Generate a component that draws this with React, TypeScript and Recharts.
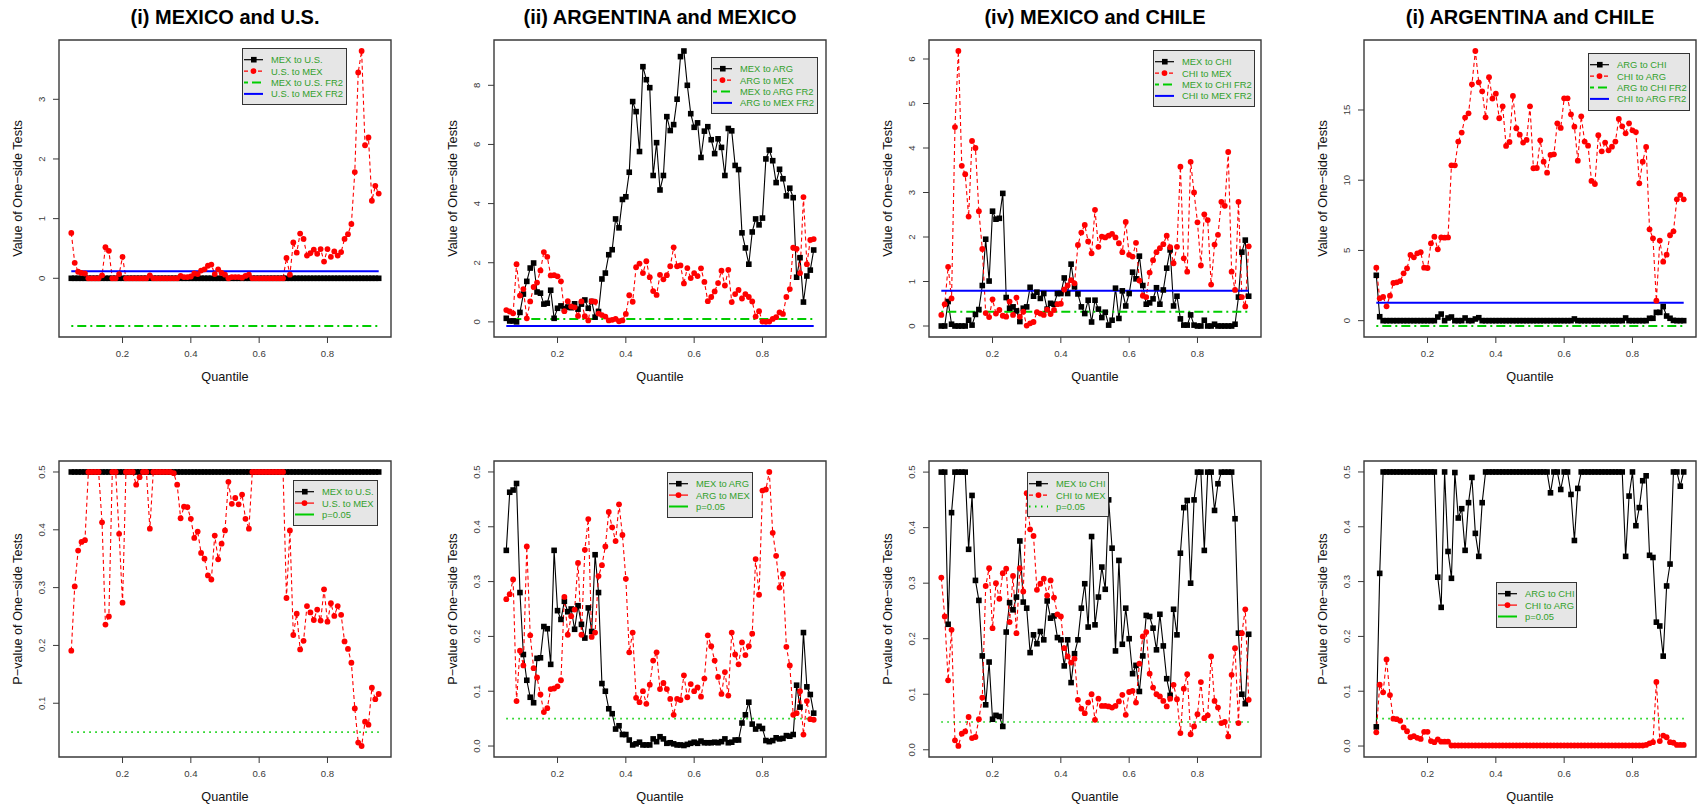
import React from "react";
import { LineChart, Line, XAxis, YAxis, ReferenceLine, ReferenceArea } from "recharts";

// quantile grid, 0.05 .. 0.95
const QUANTILES = [
  0.05, 0.06, 0.07, 0.08, 0.09, 0.1, 0.11, 0.12, 0.13, 0.14,
  0.15, 0.16, 0.17, 0.18, 0.19, 0.2, 0.21, 0.22, 0.23, 0.24,
  0.25, 0.26, 0.27, 0.28, 0.29, 0.3, 0.31, 0.32, 0.33, 0.34,
  0.35, 0.36, 0.37, 0.38, 0.39, 0.4, 0.41, 0.42, 0.43, 0.44,
  0.45, 0.46, 0.47, 0.48, 0.49, 0.5, 0.51, 0.52, 0.53, 0.54,
  0.55, 0.56, 0.57, 0.58, 0.59, 0.6, 0.61, 0.62, 0.63, 0.64,
  0.65, 0.66, 0.67, 0.68, 0.69, 0.7, 0.71, 0.72, 0.73, 0.74,
  0.75, 0.76, 0.77, 0.78, 0.79, 0.8, 0.81, 0.82, 0.83, 0.84,
  0.85, 0.86, 0.87, 0.88, 0.89, 0.9, 0.91, 0.92, 0.93, 0.94,
  0.95,
];

// ---- test values (top row) ----
const MEX_US_VAL = [
  0, 0, 0, 0, 0, 0, 0, 0, 0, 0,
  0, 0, 0, 0, 0, 0, 0, 0, 0, 0,
  0, 0, 0, 0, 0, 0, 0, 0, 0, 0,
  0, 0, 0, 0, 0, 0, 0, 0, 0, 0,
  0, 0, 0, 0, 0, 0, 0, 0, 0, 0,
  0, 0, 0, 0, 0, 0, 0, 0, 0, 0,
  0, 0, 0, 0, 0, 0, 0, 0, 0, 0,
  0, 0, 0, 0, 0, 0, 0, 0, 0, 0,
  0, 0, 0, 0, 0, 0, 0, 0, 0, 0,
  0,
];
const US_MEX_VAL = [
  0.76, 0.26, 0.11, 0.09, 0.08, 0, 0, 0, 0, 0.05,
  0.52, 0.46, 0, 0, 0.07, 0.36, 0, 0, 0, 0,
  0, 0, 0, 0.05, 0, 0, 0, 0, 0, 0,
  0, 0, 0.04, 0.02, 0.02, 0.03, 0.08, 0.07, 0.13, 0.15,
  0.21, 0.23, 0.07, 0.15, 0.09, 0.06, 0, 0.02, 0.02, 0.02,
  0.01, 0.04, 0.06, 0, 0, 0, 0, 0, 0, 0,
  0, 0, 0, 0.34, 0.06, 0.6, 0.43, 0.75, 0.66, 0.38,
  0.42, 0.48, 0.41, 0.49, 0.28, 0.49, 0.36, 0.45, 0.38, 0.44,
  0.66, 0.74, 0.91, 1.78, 3.45, 3.81, 2.23, 2.36, 1.3, 1.55,
  1.42,
];
const MEX_ARG_VAL = [
  0.12, 0.03, 0.03, 0, 0.32, 0.94, 1.37, 1.82, 1.99, 1.01,
  0.97, 0.6, 0.63, 1.07, 0.12, 0.46, 0.54, 0.45, 0.5, 0.48,
  0.61, 0.43, 0.6, 0.74, 0.46, 0.69, 0.16, 0.35, 1.45, 1.65,
  2.27, 2.44, 3.48, 3.18, 4.14, 4.23, 5.06, 7.45, 7.11, 5.76,
  8.63, 8.19, 7.92, 4.95, 6.06, 4.46, 4.95, 6.94, 6.47, 6.67,
  7.53, 8.97, 9.16, 8.0, 7.04, 6.58, 6.73, 5.56, 6.45, 6.6,
  6.16, 5.69, 6.19, 5.9, 4.95, 6.54, 6.46, 5.29, 5.15, 3.01,
  2.5, 1.95, 3.04, 3.48, 3.28, 3.51, 5.51, 5.81, 5.45, 4.71,
  5.16, 4.84, 4.26, 4.52, 4.2, 1.51, 2.17, 0.67, 1.55, 1.75,
  2.43,
];
const ARG_MEX_VAL = [
  0.4, 0.35, 0.29, 1.95, 0.89, 1.11, 0.12, 0.69, 1.18, 1.33,
  1.74, 2.36, 2.2, 1.57, 1.58, 1.54, 1.37, 0.36, 0.7, 0.52,
  0.49, 0.2, 0.69, 0.19, 0.05, 0.7, 0.68, 0.28, 0.23, 0.18,
  0.05, 0.07, 0.1, 0.02, 0.05, 0.27, 0.9, 0.68, 1.85, 1.97,
  1.65, 2.05, 1.51, 1.04, 0.91, 1.59, 1.44, 1.58, 1.88, 2.52,
  1.88, 1.91, 1.3, 1.82, 1.48, 1.65, 1.55, 1.81, 1.35, 0.7,
  0.84, 1.03, 1.31, 1.73, 1.23, 1.76, 0.67, 0.94, 1.08, 0.79,
  0.94, 0.84, 0.69, 0.18, 0.36, 0.01, 0, 0.01, 0.1, 0.16,
  0.32, 0.27, 0.84, 1.11, 2.51, 2.47, 1.65, 4.22, 1.95, 2.77,
  2.8,
];
const MEX_CHI_VAL = [
  0, 0, 0.55, 0.04, 0, 0, 0, 0, 0.13, 0.02,
  0.26, 0.37, 0.91, 1.95, 1.01, 2.58, 2.4, 2.42, 2.98, 0.64,
  0.4, 0.43, 0.34, 0.1, 0.4, 0.43, 0.87, 0.67, 0.76, 0.62,
  0.73, 0.38, 0.51, 0.49, 0.73, 0.73, 1.08, 0.73, 1.39, 0.88,
  0.72, 0.43, 0.28, 0.58, 0.09, 0.58, 0.38, 0.19, 0.31, 0.02,
  0.13, 0.85, 0.17, 0.79, 0.45, 0.73, 1.21, 1.06, 1.57, 0.91,
  0.49, 0.52, 0.61, 0.86, 0.49, 0.81, 1.3, 1.71, 0.45, 0.67,
  0.16, 0.02, 0.02, 0.25, 0.02, 0, 0, 0.13, 0, 0,
  0.04, 0, 0, 0, 0, 0, 0.04, 0.65, 1.66, 1.93,
  0.67,
];
const CHI_MEX_VAL = [
  0.25, 0.49, 1.33, 0.62, 4.47, 6.18, 3.6, 3.41, 2.46, 4.16,
  4.0, 2.58, 1.73, 0.29, 0.2, 0.6, 0.28, 0.36, 0.23, 0.21,
  0.55, 0.25, 0.64, 0.21, 0.32, 0.01, 0.06, 0.09, 0.31, 0.28,
  0.25, 0.37, 0.27, 0.36, 0.49, 0.5, 0.82, 0.91, 1.03, 0.96,
  1.82, 2.1, 2.27, 1.9, 1.63, 2.61, 1.78, 2.01, 1.99, 2.03,
  2.07, 1.99, 1.86, 1.66, 2.34, 1.6, 1.56, 1.87, 1.02, 0.68,
  0.65, 1.2, 1.48, 1.66, 1.75, 1.84, 2.03, 1.77, 1.41, 1.78,
  3.58, 1.52, 1.22, 3.69, 3.0, 2.33, 1.36, 2.51, 2.38, 0.93,
  1.83, 2.05, 2.79, 2.7, 3.91, 1.22, 0.81, 2.79, 0.65, 0.44,
  1.79,
];
const ARG_CHI_VAL = [
  3.23, 0.28, 0, 0, 0, 0, 0, 0, 0, 0,
  0, 0, 0, 0, 0, 0, 0, 0, 0.26, 0.47,
  0, 0.19, 0.26, 0, 0, 0, 0.19, 0, 0, 0.12,
  0.21, 0, 0, 0, 0, 0, 0, 0, 0, 0,
  0, 0, 0, 0, 0, 0, 0, 0, 0, 0,
  0, 0, 0, 0, 0, 0, 0, 0, 0.12, 0,
  0, 0, 0, 0, 0, 0, 0, 0, 0, 0,
  0, 0, 0, 0.19, 0, 0, 0, 0, 0, 0,
  0.17, 0.17, 0.59, 0.59, 1.0, 0.33, 0.17, 0.02, 0, 0,
  0,
];
const CHI_ARG_VAL = [
  3.77, 1.59, 1.69, 1.02, 1.78, 2.68, 2.73, 2.82, 3.37, 3.73,
  4.68, 4.51, 4.79, 4.87, 3.77, 3.75, 5.51, 5.98, 5.08, 5.93,
  5.91, 5.93, 11.06, 11.06, 12.75, 13.39, 14.46, 14.76, 16.83, 19.2,
  16.97, 16.33, 14.48, 17.33, 15.81, 16.16, 14.41, 15.26, 12.44, 12.72,
  16.0, 13.7, 13.24, 12.68, 12.87, 15.26, 10.85, 10.87, 12.84, 11.32,
  10.54, 11.8, 11.84, 14.05, 13.72, 15.83, 15.83, 14.69, 13.81, 11.39,
  14.55, 12.75, 12.46, 9.95, 9.73, 13.2, 12.06, 12.68, 12.13, 12.39,
  12.75, 14.36, 13.84, 13.34, 14.05, 13.55, 13.43, 9.78, 11.32, 12.37,
  6.5, 5.86, 1.42, 5.7, 4.2, 4.7, 6.08, 6.36, 8.64, 8.95,
  8.64,
];

// ---- p-values (bottom row) ----
const MEX_US_P = [
  0.5, 0.5, 0.5, 0.5, 0.5, 0.5, 0.5, 0.5, 0.5, 0.5,
  0.5, 0.5, 0.5, 0.5, 0.5, 0.5, 0.5, 0.5, 0.5, 0.5,
  0.5, 0.5, 0.5, 0.5, 0.5, 0.5, 0.5, 0.5, 0.5, 0.5,
  0.5, 0.5, 0.5, 0.5, 0.5, 0.5, 0.5, 0.5, 0.5, 0.5,
  0.5, 0.5, 0.5, 0.5, 0.5, 0.5, 0.5, 0.5, 0.5, 0.5,
  0.5, 0.5, 0.5, 0.5, 0.5, 0.5, 0.5, 0.5, 0.5, 0.5,
  0.5, 0.5, 0.5, 0.5, 0.5, 0.5, 0.5, 0.5, 0.5, 0.5,
  0.5, 0.5, 0.5, 0.5, 0.5, 0.5, 0.5, 0.5, 0.5, 0.5,
  0.5, 0.5, 0.5, 0.5, 0.5, 0.5, 0.5, 0.5, 0.5, 0.5,
  0.5,
];
const US_MEX_P = [
  0.191, 0.302, 0.364, 0.379, 0.382, 0.5, 0.5, 0.5, 0.5, 0.413,
  0.236, 0.25, 0.5, 0.5, 0.393, 0.274, 0.5, 0.5, 0.5, 0.478,
  0.491, 0.5, 0.5, 0.402, 0.5, 0.5, 0.5, 0.5, 0.5, 0.5,
  0.498, 0.478, 0.42, 0.44, 0.439, 0.419, 0.386, 0.397, 0.36, 0.35,
  0.321, 0.314, 0.39, 0.349, 0.376, 0.399, 0.483, 0.445, 0.455, 0.444,
  0.461, 0.419, 0.402, 0.5, 0.5, 0.5, 0.5, 0.5, 0.5, 0.5,
  0.5, 0.5, 0.5, 0.282, 0.399, 0.218, 0.255, 0.193, 0.208, 0.268,
  0.257, 0.244, 0.262, 0.243, 0.297, 0.241, 0.273, 0.251, 0.268, 0.253,
  0.207, 0.194, 0.17, 0.091, 0.032, 0.026, 0.068, 0.063, 0.127, 0.107,
  0.116,
];
const MEX_ARG_P = [
  0.357, 0.463, 0.467, 0.479, 0.28, 0.167, 0.12, 0.089, 0.079, 0.16,
  0.161, 0.218, 0.214, 0.149, 0.357, 0.247, 0.231, 0.264, 0.245, 0.25,
  0.213, 0.256, 0.222, 0.197, 0.252, 0.209, 0.349, 0.28, 0.114, 0.1,
  0.068, 0.059, 0.031, 0.037, 0.021, 0.021, 0.011, 0.002, 0.004, 0.007,
  0.002, 0.002, 0.002, 0.013, 0.008, 0.017, 0.013, 0.005, 0.006, 0.004,
  0.002, 0.002, 0.001, 0.003, 0.005, 0.007, 0.005, 0.009, 0.006, 0.006,
  0.006, 0.007, 0.006, 0.008, 0.013, 0.006, 0.007, 0.011, 0.011, 0.042,
  0.057, 0.08, 0.04, 0.031, 0.036, 0.032, 0.01, 0.008, 0.01, 0.015,
  0.013, 0.014, 0.019, 0.018, 0.021, 0.111, 0.071, 0.207, 0.108, 0.094,
  0.06,
];
const ARG_MEX_P = [
  0.268, 0.277, 0.304, 0.082, 0.174, 0.147, 0.364, 0.202, 0.142, 0.125,
  0.094, 0.062, 0.069, 0.104, 0.105, 0.109, 0.12, 0.272, 0.203, 0.237,
  0.249, 0.334, 0.203, 0.358, 0.414, 0.199, 0.207, 0.31, 0.33, 0.364,
  0.427, 0.399, 0.374, 0.441, 0.385, 0.305, 0.171, 0.207, 0.088, 0.08,
  0.1, 0.077, 0.112, 0.156, 0.171, 0.104, 0.115, 0.104, 0.086, 0.057,
  0.086, 0.084, 0.129, 0.089, 0.113, 0.1, 0.107, 0.09, 0.123, 0.202,
  0.182, 0.156, 0.126, 0.095, 0.135, 0.092, 0.207, 0.167, 0.149, 0.189,
  0.166, 0.182, 0.205, 0.341, 0.276, 0.466, 0.468, 0.5, 0.389, 0.347,
  0.289, 0.314, 0.181, 0.147, 0.057, 0.06, 0.1, 0.021, 0.082, 0.049,
  0.048,
];
const MEX_CHI_P = [
  0.5, 0.5, 0.226, 0.427, 0.5, 0.5, 0.5, 0.5, 0.361, 0.458,
  0.305, 0.269, 0.169, 0.081, 0.158, 0.055, 0.062, 0.06, 0.042, 0.212,
  0.265, 0.252, 0.275, 0.376, 0.266, 0.255, 0.175, 0.207, 0.191, 0.213,
  0.198, 0.268, 0.237, 0.241, 0.202, 0.198, 0.151, 0.198, 0.121, 0.173,
  0.198, 0.255, 0.299, 0.221, 0.384, 0.225, 0.275, 0.329, 0.289, 0.45,
  0.363, 0.178, 0.341, 0.19, 0.255, 0.2, 0.137, 0.152, 0.105, 0.169,
  0.242, 0.24, 0.219, 0.18, 0.244, 0.187, 0.128, 0.098, 0.253, 0.207,
  0.354, 0.436, 0.449, 0.3, 0.45, 0.5, 0.5, 0.359, 0.5, 0.5,
  0.431, 0.479, 0.5, 0.5, 0.5, 0.5, 0.416, 0.21, 0.1, 0.083,
  0.208,
];
const CHI_MEX_P = [
  0.31, 0.24, 0.125, 0.216, 0.017, 0.007, 0.029, 0.033, 0.059, 0.021,
  0.023, 0.055, 0.094, 0.295, 0.327, 0.219, 0.3, 0.272, 0.318, 0.326,
  0.23, 0.313, 0.21, 0.327, 0.285, 0.462, 0.397, 0.385, 0.288, 0.299,
  0.308, 0.278, 0.305, 0.274, 0.244, 0.24, 0.183, 0.168, 0.157, 0.164,
  0.09, 0.074, 0.066, 0.085, 0.1, 0.054, 0.092, 0.079, 0.079, 0.078,
  0.076, 0.079, 0.087, 0.099, 0.063, 0.104, 0.106, 0.085, 0.155, 0.204,
  0.212, 0.137, 0.112, 0.1, 0.096, 0.088, 0.078, 0.092, 0.117, 0.091,
  0.03, 0.11, 0.136, 0.028, 0.042, 0.064, 0.122, 0.057, 0.062, 0.168,
  0.088, 0.076, 0.048, 0.05, 0.024, 0.135, 0.183, 0.048, 0.21, 0.253,
  0.09,
];
const ARG_CHI_P = [
  0.035, 0.315, 0.5, 0.5, 0.5, 0.5, 0.5, 0.5, 0.5, 0.5,
  0.5, 0.5, 0.5, 0.5, 0.5, 0.5, 0.5, 0.5, 0.308, 0.253,
  0.5, 0.355, 0.306, 0.499, 0.416, 0.433, 0.357, 0.444, 0.49, 0.388,
  0.346, 0.444, 0.5, 0.5, 0.5, 0.5, 0.5, 0.5, 0.5, 0.5,
  0.5, 0.5, 0.5, 0.5, 0.5, 0.5, 0.5, 0.5, 0.5, 0.5,
  0.5, 0.462, 0.5, 0.5, 0.468, 0.5, 0.5, 0.459, 0.375, 0.47,
  0.5, 0.5, 0.5, 0.5, 0.5, 0.5, 0.5, 0.5, 0.5, 0.5,
  0.5, 0.5, 0.5, 0.346, 0.456, 0.5, 0.402, 0.435, 0.484, 0.493,
  0.348, 0.344, 0.226, 0.219, 0.164, 0.292, 0.332, 0.5, 0.5, 0.474,
  0.5,
];
const CHI_ARG_P = [
  0.025, 0.112, 0.098, 0.158, 0.093, 0.05, 0.049, 0.046, 0.034, 0.027,
  0.016, 0.018, 0.015, 0.013, 0.026, 0.026, 0.009, 0.007, 0.012, 0.008,
  0.008, 0.008, 0.001, 0.001, 0.001, 0.001, 0.001, 0.001, 0.001, 0.001,
  0.001, 0.001, 0.001, 0.001, 0.001, 0.001, 0.001, 0.001, 0.001, 0.001,
  0.001, 0.001, 0.001, 0.001, 0.001, 0.001, 0.001, 0.001, 0.001, 0.001,
  0.001, 0.001, 0.001, 0.001, 0.001, 0.001, 0.001, 0.001, 0.001, 0.001,
  0.001, 0.001, 0.001, 0.001, 0.001, 0.001, 0.001, 0.001, 0.001, 0.001,
  0.001, 0.001, 0.001, 0.001, 0.001, 0.001, 0.001, 0.001, 0.001, 0.002,
  0.005, 0.007, 0.117, 0.009, 0.019, 0.016, 0.007, 0.006, 0.002, 0.002,
  0.002,
];

// FR2 reference levels (green = first direction, blue = reverse)
const FR2_GREEN = [-0.8, 0.1, 0.32, -0.38];
const FR2_BLUE = [0.12, -0.14, 0.79, 1.28];
const P_CUTOFF = 0.05;

const TITLES = [
  "(i) MEXICO and U.S.",
  "(ii) ARGENTINA and MEXICO",
  "(iv) MEXICO and CHILE",
  "(i) ARGENTINA and CHILE",
];
const TOP_NAMES = [
  ["MEX to U.S.", "U.S. to MEX", "MEX to U.S. FR2", "U.S. to MEX FR2"],
  ["MEX to ARG", "ARG to MEX", "MEX to ARG FR2", "ARG to MEX FR2"],
  ["MEX to CHI", "CHI to MEX", "MEX to CHI FR2", "CHI to MEX FR2"],
  ["ARG to CHI", "CHI to ARG", "ARG to CHI FR2", "CHI to ARG FR2"],
];
const BOTTOM_NAMES = [
  ["MEX to U.S.", "U.S. to MEX", "p=0.05"],
  ["MEX to ARG", "ARG to MEX", "p=0.05"],
  ["MEX to CHI", "CHI to MEX", "p=0.05"],
  ["ARG to CHI", "CHI to ARG", "p=0.05"],
];
const TOP_TICKS = [[0, 1, 2, 3], [0, 2, 4, 6, 8], [0, 1, 2, 3, 4, 5, 6], [0, 5, 10, 15]];
const BOTTOM_TICKS = [
  [0.1, 0.2, 0.3, 0.4, 0.5],
  [0, 0.1, 0.2, 0.3, 0.4, 0.5],
  [0, 0.1, 0.2, 0.3, 0.4, 0.5],
  [0, 0.1, 0.2, 0.3, 0.4, 0.5],
];
const X_TICKS = [0.2, 0.4, 0.6, 0.8];

const TOP_A = [MEX_US_VAL, MEX_ARG_VAL, MEX_CHI_VAL, ARG_CHI_VAL];
const TOP_B = [US_MEX_VAL, ARG_MEX_VAL, CHI_MEX_VAL, CHI_ARG_VAL];
const BOT_A = [MEX_US_P, MEX_ARG_P, MEX_CHI_P, ARG_CHI_P];
const BOT_B = [US_MEX_P, ARG_MEX_P, CHI_MEX_P, CHI_ARG_P];

// layout
const PANEL_W = 435;
const BOX_L = 59;
const BOX_R = 391;
const X_DOMAIN: [number, number] = [0.014, 0.986];
const TOP_DOMAINS: [number, number][] = [[-0.984, 3.994], [-0.512, 9.532], [-0.247, 6.427], [-1.163, 19.983]];
const BOT_DOMAINS: [number, number][] = [[0.007, 0.519], [-0.02, 0.52], [-0.013, 0.52], [-0.02, 0.52]];
const TOP_LEGEND_BOX = [
  { left: 242, top: 48, w: 105, h: 57 },
  { left: 276, top: 57, w: 107, h: 57 },
  { left: 283, top: 50, w: 102, h: 57 },
  { left: 283, top: 53, w: 102, h: 58 },
];
const BOT_LEGEND_BOX = [
  { left: 293, top: 76, w: 85, h: 46 },
  { left: 232, top: 68, w: 86, h: 46 },
  { left: 157, top: 68, w: 82, h: 45 },
  { left: 191, top: 178, w: 81, h: 46 },
];

const FONT = '"Liberation Sans", Arial, Helvetica, sans-serif';
const AXIS_GREY = "#3a3a3a";
const GREEN = "#00cd00";
const LEGEND_TEXT = "#33a02c";
const DOTDASH = "2 4 9 4";

const renderSquare = (p: any) => {
  const { cx, cy, index } = p;
  if (cx == null || cy == null) return <g key={`s-${index}`} />;
  return <rect key={`s-${index}`} x={cx - 2.8} y={cy - 2.8} width={5.6} height={5.6} fill="#000" />;
};
const renderCircle = (p: any) => {
  const { cx, cy, index } = p;
  if (cx == null || cy == null) return <g key={`c-${index}`} />;
  return <circle key={`c-${index}`} cx={cx} cy={cy} r={2.9} fill="#ff0000" />;
};

function RotTick(props: any) {
  const { x, y, payload, pval } = props;
  const v = payload.value as number;
  const label = pval ? v.toFixed(1) : String(v);
  return (
    <g>
      <text x={x} y={y} transform={`rotate(-90 ${x} ${y})`} textAnchor="middle" fontSize={9.6} fill={AXIS_GREY}>
        {label}
      </text>
    </g>
  );
}

function YTitle({ text, boxTop, boxH }: { text: string; boxTop: number; boxH: number }) {
  const y = boxTop + boxH / 2;
  return (
    <text x={22} y={y} transform={`rotate(-90 22 ${y})`} textAnchor="middle" fontSize={12.7} fill="#111">
      {text}
    </text>
  );
}

function XTitle({ boxBottom }: { boxBottom: number }) {
  return (
    <text x={(BOX_L + BOX_R) / 2} y={boxBottom + 44} textAnchor="middle" fontSize={12.7} fill="#111">
      Quantile
    </text>
  );
}

type LegendItem = { label: string; color: string; width: number; dash?: string; marker?: "square" | "circle" };

function LegendBox({ box, items }: { box: { left: number; top: number; w: number; h: number }; items: LegendItem[] }) {
  return (
    <div
      style={{
        position: "absolute",
        left: box.left,
        top: box.top,
        width: box.w,
        height: box.h,
        background: "#e6e6e6",
        border: "1px solid #333",
        boxSizing: "border-box",
      }}
    >
      <svg width={box.w - 2} height={box.h - 2} style={{ display: "block" }}>
        {items.map((it, k) => {
          const cy = 10.7 + k * 11.4;
          return (
            <g key={k}>
              <line x1={1} x2={20} y1={cy} y2={cy} stroke={it.color} strokeWidth={it.width} strokeDasharray={it.dash} />
              {it.marker === "square" && <rect x={8} y={cy - 2.8} width={5.6} height={5.6} fill="#000" />}
              {it.marker === "circle" && <circle cx={10.5} cy={cy} r={2.9} fill="#ff0000" />}
              <text x={28} y={cy + 3.4} fontSize={9.4} fill={LEGEND_TEXT} fontFamily={FONT}>
                {it.label}
              </text>
            </g>
          );
        })}
      </svg>
    </div>
  );
}

function Panel({ col, bottom }: { col: number; bottom: boolean }) {
  const h = bottom ? 405 : 404;
  const boxTop = bottom ? 57 : 40;
  const boxBottom = bottom ? 353 : 337;
  const xAxisH = 30;
  const a = bottom ? BOT_A[col] : TOP_A[col];
  const b = bottom ? BOT_B[col] : TOP_B[col];
  const rows = QUANTILES.map((q, i) => ({ q, a: a[i], b: b[i] }));
  const domain = bottom ? BOT_DOMAINS[col] : TOP_DOMAINS[col];
  const ticks = bottom ? BOTTOM_TICKS[col] : TOP_TICKS[col];
  const names = bottom ? BOTTOM_NAMES[col] : TOP_NAMES[col];
  const redDashedSample = !bottom || col === 2;

  const legendItems: LegendItem[] = bottom
    ? [
        { label: names[0], color: "#000", width: 1.2, marker: "square" },
        { label: names[1], color: "#ff0000", width: 1.2, dash: redDashedSample ? "4 3" : undefined, marker: "circle" },
        { label: names[2], color: GREEN, width: 2, dash: col === 2 ? "1.5 4.5" : undefined },
      ]
    : [
        { label: names[0], color: "#000", width: 1.2, marker: "square" },
        { label: names[1], color: "#ff0000", width: 1.2, dash: "4 3", marker: "circle" },
        { label: names[2], color: GREEN, width: 2, dash: "4 4 9 2" },
        { label: names[3], color: "#0000ff", width: 2 },
      ];

  return (
    <div style={{ position: "absolute", left: col * PANEL_W, top: bottom ? 404 : 0, width: PANEL_W, height: h }}>
      <LineChart
        width={PANEL_W}
        height={h}
        data={rows}
        margin={{ top: boxTop, right: PANEL_W - BOX_R, bottom: h - boxBottom - xAxisH, left: BOX_L - 40 }}
      >
        <XAxis
          dataKey="q"
          type="number"
          domain={X_DOMAIN}
          ticks={X_TICKS}
          allowDataOverflow
          axisLine={false}
          tickSize={6}
          tickMargin={7}
          height={xAxisH}
          tick={{ fontSize: 9.6, fill: AXIS_GREY }}
          tickLine={{ stroke: AXIS_GREY }}
          label={<XTitle boxBottom={boxBottom} />}
        />
        <YAxis
          type="number"
          domain={domain}
          ticks={ticks}
          allowDataOverflow
          width={40}
          axisLine={false}
          tickSize={6}
          tickMargin={8}
          tickLine={{ stroke: AXIS_GREY }}
          tick={(p: any) => <RotTick {...p} pval={bottom} />}
          label={
            <YTitle
              text={bottom ? "P\u2212value of One\u2212side Tests" : "Value of One\u2212side Tests"}
              boxTop={boxTop}
              boxH={boxBottom - boxTop}
            />
          }
        />
        <ReferenceArea
          x1={X_DOMAIN[0]}
          x2={X_DOMAIN[1]}
          y1={domain[0]}
          y2={domain[1]}
          fill="none"
          fillOpacity={0}
          stroke={AXIS_GREY}
          strokeWidth={1.4}
          ifOverflow="visible"
        />
        <Line
          dataKey="a"
          stroke="#000"
          strokeWidth={1.1}
          dot={renderSquare}
          activeDot={false}
          isAnimationActive={false}
        />
        <Line
          dataKey="b"
          stroke="#ff0000"
          strokeWidth={1.1}
          strokeDasharray="4 3"
          dot={renderCircle}
          activeDot={false}
          isAnimationActive={false}
        />
        {bottom ? (
          <ReferenceLine
            segment={[
              { x: 0.05, y: P_CUTOFF },
              { x: 0.95, y: P_CUTOFF },
            ]}
            stroke={GREEN}
            strokeWidth={1.6}
            strokeDasharray="1.5 4.5"
          />
        ) : (
          <ReferenceLine
            segment={[
              { x: 0.05, y: FR2_GREEN[col] },
              { x: 0.95, y: FR2_GREEN[col] },
            ]}
            stroke={GREEN}
            strokeWidth={2}
            strokeDasharray={DOTDASH}
          />
        )}
        {!bottom && (
          <ReferenceLine
            segment={[
              { x: 0.05, y: FR2_BLUE[col] },
              { x: 0.95, y: FR2_BLUE[col] },
            ]}
            stroke="#0000ff"
            strokeWidth={2}
          />
        )}
      </LineChart>
      {!bottom && (
        <div
          style={{
            position: "absolute",
            left: BOX_L,
            width: BOX_R - BOX_L,
            top: 5,
            lineHeight: "24px",
            fontSize: 20,
            fontWeight: "bold",
            textAlign: "center",
            whiteSpace: "nowrap",
            color: "#000",
          }}
        >
          {TITLES[col]}
        </div>
      )}
      <LegendBox box={bottom ? BOT_LEGEND_BOX[col] : TOP_LEGEND_BOX[col]} items={legendItems} />
    </div>
  );
}

export default function App() {
  return (
    <div
      style={{
        position: "absolute",
        left: 0,
        top: 0,
        width: 1699,
        height: 809,
        overflow: "hidden",
        background: "#fff",
        fontFamily: FONT,
      }}
    >
      {[0, 1, 2, 3].map((c) => (
        <Panel key={`t${c}`} col={c} bottom={false} />
      ))}
      {[0, 1, 2, 3].map((c) => (
        <Panel key={`b${c}`} col={c} bottom />
      ))}
    </div>
  );
}
